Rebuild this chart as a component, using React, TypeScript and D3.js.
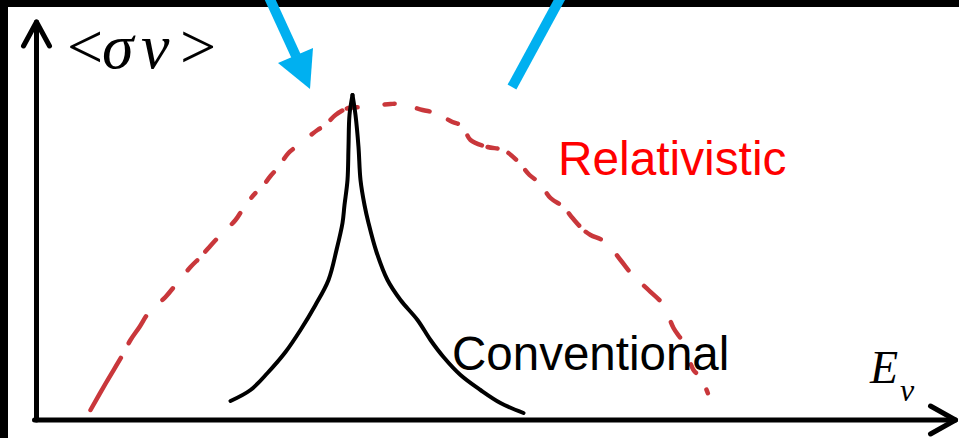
import React from "react";
import * as d3 from "d3";

// Reaction rate <σv> versus neutrino energy E_ν (arbitrary units)
const relativisticE = [54, 70, 86, 94, 103, 112, 129, 139, 154, 164, 172, 183, 199, 207, 219, 224, 234, 242, 252, 262, 281, 289, 299, 312, 327, 354, 364, 386, 399, 416, 426, 434, 451, 467, 482, 493, 503, 514, 527, 536, 547, 554, 569, 584, 596, 612, 627, 637, 647, 657, 664, 672];
const relativisticRate = [10, 38, 65, 80, 93, 107, 123, 135, 153, 163, 172, 184, 200, 212, 227, 231, 244, 253, 267, 275, 290, 295, 305, 312, 313, 316, 316, 310, 307, 298, 294, 280, 273, 270, 258, 245, 237, 222, 213, 202, 190, 185, 178, 160, 145, 130, 115, 92, 77, 50, 43, 25];

// Conventional resonance: rising flank up to the cusp, then falling flank
const conventionalRiseE = [194, 214, 231, 249, 264, 279, 292, 300, 306, 308, 311, 312, 313, 316];
const conventionalRiseRate = [19, 30, 47, 68, 90, 115, 140, 170, 197, 215, 240, 273, 305, 325];
const conventionalFallE = [316, 319, 322, 324, 328, 332, 340, 351, 364, 381, 394, 407, 424, 444, 464, 487];
const conventionalFallRate = [325, 305, 273, 240, 215, 197, 168, 140, 120, 100, 80, 63, 45, 30, 17, 7];

const seriesLabels = ["Relativistic", "Conventional"];
const yAxisGlyphs = ["<", "σ", "v", ">"];
const xAxisLabel = "E";
const xAxisSub = "ν";

const W = 959;
const H = 438;

const x = d3.scaleLinear().domain([0, 921]).range([36.5, 957.5]);
const y = d3.scaleLinear().domain([0, 400]).range([420, 20]);

const zip = (xs: number[], ys: number[]) => xs.map((v, i) => [v, ys[i]] as [number, number]);

const line = d3
  .line<[number, number]>()
  .x((d) => x(d[0]))
  .y((d) => y(d[1]))
  .curve(d3.curveCatmullRom.alpha(0.5));

// hand-drawn, uneven dashes
const redDash = "60 17 32 23 16 23 14 12 16 22 14 19 6 16 12 17 13 24 10 14 15 5 11 27 10 23 13 20 11 16 18 6 10 12 10 14 13 19 16 14 16 9 17 23 19 22 21 25 18 29 10 20 4 40";

// horizontal slots for the math-style axis title
const yGlyphX = [67, 102, 141, 180];
const yGlyphUpright = [true, false, false, true];

export default function App() {
  const relPath = line(zip(relativisticE, relativisticRate)) || "";
  const risePath = line(zip(conventionalRiseE, conventionalRiseRate)) || "";
  const fallPath = line(zip(conventionalFallE, conventionalFallRate)) || "";

  const x0 = x(0);
  const y0 = y(0);
  const xEnd = x(921);
  const yTop = y(398);

  return (
    <svg
      width={W}
      height={H}
      viewBox={`0 0 ${W} ${H}`}
      style={{ position: "absolute", left: 0, top: 0, display: "block", background: "#fff" }}
    >
      <rect x={0} y={0} width={W} height={H} fill="#fff" />

      {/* frame edges */}
      <rect x={0} y={0} width={8} height={H} fill="#000" />
      <rect x={0} y={0} width={W} height={7} fill="#000" />

      {/* axes */}
      <g stroke="#000" strokeWidth={5} fill="none" strokeLinecap="round" strokeLinejoin="round">
        <path d={`M${x0},${y0} L${x0},${yTop}`} />
        <path d={`M${x0 - 13},${yTop + 24} L${x0},${yTop} L${x0 + 13},${yTop + 24}`} />
        <path d={`M${x0 - 2},${y0} L${xEnd - 2},${y0}`} />
        <path d={`M${xEnd - 27},${y0 - 14} L${xEnd - 2},${y0} L${xEnd - 27},${y0 + 14}`} />
      </g>

      {/* relativistic curve */}
      <path
        d={relPath}
        fill="none"
        stroke="#c9373b"
        strokeWidth={4.5}
        strokeLinecap="round"
        strokeDasharray={redDash}
      />

      {/* conventional curve */}
      <g fill="none" stroke="#000" strokeWidth={4} strokeLinecap="round" strokeLinejoin="round">
        <path d={risePath} />
        <path d={fallPath} />
      </g>

      {/* labels */}
      <text
        x={558}
        y={175}
        fill="#ff0000"
        fontFamily="'Liberation Sans', Arial, sans-serif"
        fontSize={47.8}
      >
        {seriesLabels[0]}
      </text>
      <text
        x={452}
        y={370}
        fill="#000"
        fontFamily="'Liberation Sans', Arial, sans-serif"
        fontSize={47.5}
      >
        {seriesLabels[1]}
      </text>
      <text
        y={68}
        fill="#000"
        fontFamily="'Liberation Serif', 'DejaVu Serif', serif"
        fontSize={64}
      >
        {yAxisGlyphs.map((g, i) => (
          <tspan key={i} x={yGlyphX[i]} fontStyle={yGlyphUpright[i] ? "normal" : "italic"}>
            {g}
          </tspan>
        ))}
      </text>
      <text
        x={870}
        y={383}
        fill="#000"
        fontFamily="'Liberation Serif', 'DejaVu Serif', serif"
        fontStyle="italic"
        fontSize={46}
      >
        {xAxisLabel}
        <tspan fontSize={32} dy={18} dx={2}>
          {xAxisSub}
        </tspan>
      </text>

      {/* pointer arrows */}
      <g fill="#00b0f0" stroke="none">
        <path d="M268,-5 L296,56" stroke="#00b0f0" strokeWidth={10} />
        <polygon points="278,63 313,48 310,89" />
        <path d="M562,-5 L512,87" stroke="#00b0f0" strokeWidth={10} />
      </g>
    </svg>
  );
}
